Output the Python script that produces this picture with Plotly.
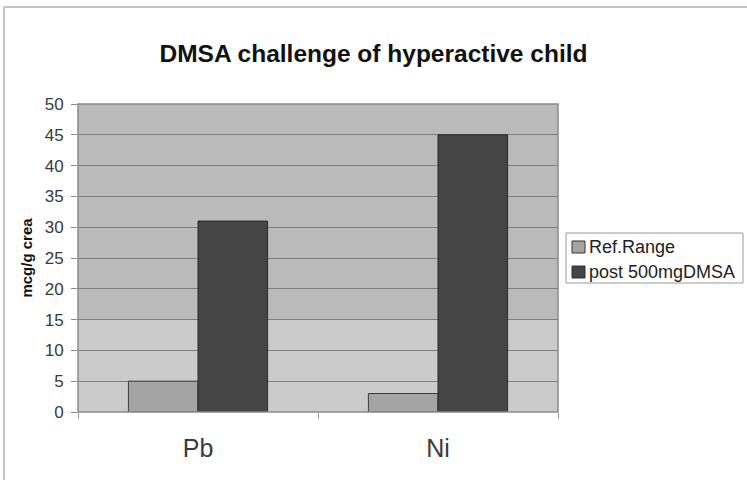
import plotly.graph_objects as go

categories = ["Pb", "Ni"]
series_names = ["Ref.Range", "post 500mgDMSA"]
ref_range = [5, 3]
post_dmsa = [31, 45]
y_ticks = [0, 5, 10, 15, 20, 25, 30, 35, 40, 45, 50]
colors = ["#a4a4a4", "#454545"]
edge_colors = ["#3a3a3a", "#2a2a2a"]

L, R, T, B = 78, 189, 104, 68
W, H = 747, 480
pw, ph = W - L - R, H - T - B


def px(x):
    return (x - L) / pw


def py(y):
    return 1 - (y - T) / ph


fig = go.Figure()
for name, vals, c, ec in zip(series_names, [ref_range, post_dmsa], colors, edge_colors):
    fig.add_trace(go.Bar(name=name, x=categories, y=vals,
                         marker=dict(color=c, line=dict(color=ec, width=1))))

shapes = [
    dict(type="rect", xref="paper", yref="y", x0=0, x1=1, y0=0, y1=15,
         fillcolor="#cbcbcb", line=dict(width=0), layer="between"),
    dict(type="line", xref="paper", yref="paper",
         x0=px(4), x1=px(W), y0=py(7), y1=py(7),
         line=dict(color="#b0b0b0", width=1.5)),
    dict(type="line", xref="paper", yref="paper",
         x0=px(4), x1=px(4), y0=py(7), y1=py(H),
         line=dict(color="#b0b0b0", width=1.5)),
    dict(type="rect", xref="paper", yref="paper", x0=0, x1=1, y0=0, y1=1,
         line=dict(color="#8a8a8a", width=1.5), fillcolor="rgba(0,0,0,0)"),
    # legend box
    dict(type="rect", xref="paper", yref="paper", x0=px(566), x1=px(743),
         y0=py(283), y1=py(233), line=dict(color="#9a9a9a", width=1), fillcolor="white"),
]
annotations = []
row_y = [247, 272]
for i, (name, c) in enumerate(zip(series_names, colors)):
    cy = row_y[i]
    shapes.append(dict(type="rect", xref="paper", yref="paper", x0=px(572), x1=px(585),
                       y0=py(cy + 6), y1=py(cy - 6), fillcolor=c,
                       line=dict(color="#333333", width=1)))
    annotations.append(dict(text=name, xref="paper", yref="paper", x=px(587), y=py(cy),
                            xanchor="left", yanchor="middle", showarrow=False,
                            font=dict(size=18, color="#222222")))

fig.update_layout(
    width=W, height=H,
    margin=dict(l=L, r=R, t=T, b=B),
    paper_bgcolor="white",
    plot_bgcolor="#bababa",
    barmode="group",
    bargap=0.42,
    bargroupgap=0,
    font=dict(family="Liberation Sans, Arial, sans-serif", color="#333333"),
    title=dict(text="<b>DMSA challenge of hyperactive child</b>",
               x=0.5, xref="container", xanchor="center",
               y=1 - 53 / H, yanchor="middle",
               font=dict(size=24.5, color="#111111")),
    shapes=shapes,
    annotations=annotations,
    showlegend=False,
)
fig.update_yaxes(range=[0, 50], tickvals=y_ticks, showgrid=True, gridcolor="#7e7e7e",
                 gridwidth=1, ticks="outside", ticklen=6, tickcolor="#8a8a8a",
                 ticklabelstandoff=4,
                 tickfont=dict(size=17, color="#3a3a3a"), zeroline=False,
                 title=dict(text="<b>mcg/g crea</b>", font=dict(size=15, color="#111111"),
                            standoff=8))
fig.update_xaxes(tickson="boundaries", ticks="outside", ticklen=6, tickcolor="#9a9a9a",
                 ticklabelstandoff=19,
                 tickfont=dict(size=25, color="#3a3a3a"), showgrid=False)

fig.write_html("out.html")
